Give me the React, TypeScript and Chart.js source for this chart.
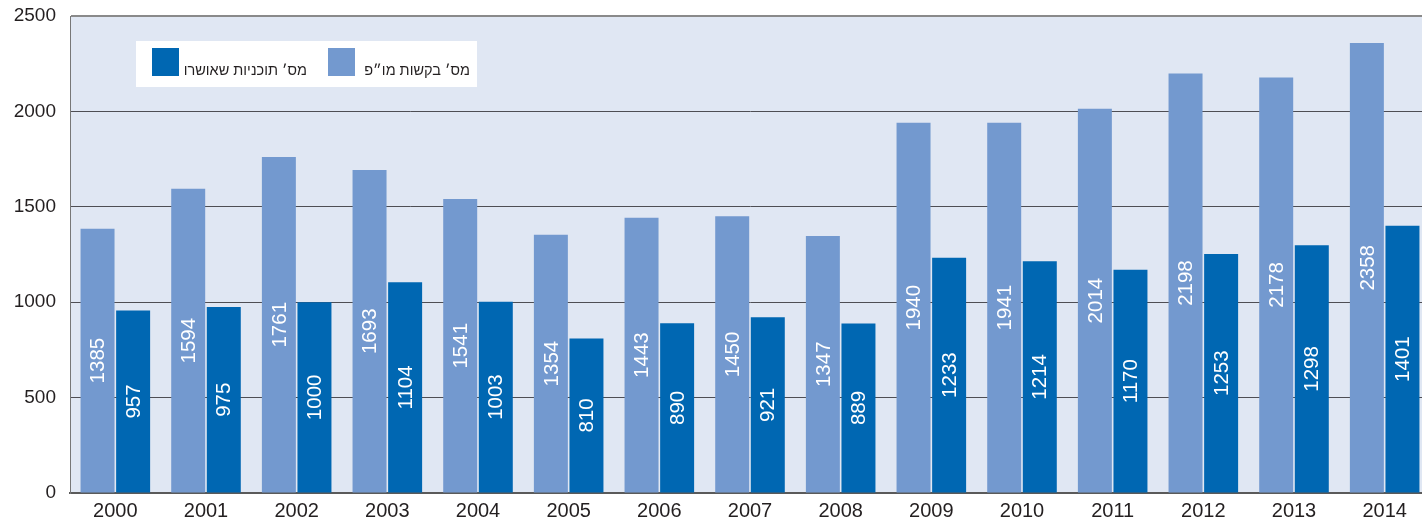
import React, { useEffect, useRef } from "react";
import { Chart, registerables } from "chart.js";

Chart.register(...registerables);

const years = ["2000", "2001", "2002", "2003", "2004", "2005", "2006", "2007", "2008", "2009", "2010", "2011", "2012", "2013", "2014"];
const requests = [1385, 1594, 1761, 1693, 1541, 1354, 1443, 1450, 1347, 1940, 1941, 2014, 2198, 2178, 2358];
const approved = [957, 975, 1000, 1104, 1003, 810, 890, 921, 889, 1233, 1214, 1170, 1253, 1298, 1401];
const seriesLabels = ["מס׳ בקשות מו״פ", "מס׳ תוכניות שאושרו"];
const seriesColors = ["#7399cf", "#0067b2"];
const yMax = 2500;
const yStep = 500;

const FONT = "'Liberation Sans', Arial, 'DejaVu Sans', sans-serif";

const bgPlugin = {
  id: "bg",
  beforeDraw(chart: any) {
    const { ctx, chartArea: a } = chart;
    ctx.save();
    ctx.fillStyle = "#e0e7f3";
    ctx.fillRect(a.left, a.top, a.right - a.left, a.bottom - a.top);
    ctx.restore();
  },
};

const valueLabelPlugin = {
  id: "valueLabels",
  afterDatasetsDraw(chart: any) {
    const { ctx } = chart;
    ctx.save();
    ctx.fillStyle = "#ffffff";
    ctx.font = `20.5px ${FONT}`;
    ctx.textAlign = "center";
    ctx.textBaseline = "middle";
    chart.data.datasets.forEach((ds: any, i: number) => {
      const meta = chart.getDatasetMeta(i);
      meta.data.forEach((bar: any, j: number) => {
        const cy = (bar.y + bar.base) / 2;
        ctx.save();
        ctx.translate(bar.x + 1, cy);
        ctx.rotate(-Math.PI / 2);
        ctx.fillText(String(ds.data[j]), 0, 0);
        ctx.restore();
      });
    });
    ctx.restore();
  },
};

const legendPlugin = {
  id: "boxLegend",
  afterDraw(chart: any) {
    const { ctx } = chart;
    const dsets = chart.data.datasets;
    ctx.save();
    ctx.fillStyle = "#ffffff";
    ctx.fillRect(136, 41, 341, 46);
    ctx.font = `14.5px ${FONT}`;
    ctx.textBaseline = "alphabetic";
    ctx.textAlign = "right";
    (ctx as any).direction = "rtl";
    const items = [
      { textRight: 470, swatchX: 328 },
      { textRight: 307, swatchX: 152 },
    ];
    items.forEach((it, i) => {
      const ds = dsets[i];
      ctx.fillStyle = ds.backgroundColor;
      ctx.fillRect(it.swatchX, 48, 27, 28);
      ctx.fillStyle = "#231f20";
      ctx.fillText(ds.label, it.textRight, 75);
    });
    ctx.restore();
  },
};

export default function App() {
  const ref = useRef<HTMLCanvasElement>(null);

  useEffect(() => {
    if (!ref.current) return;
    const chart = new Chart(ref.current, {
      type: "bar",
      data: {
        labels: years,
        datasets: [
          { label: seriesLabels[0], data: requests, backgroundColor: seriesColors[0], borderWidth: 0 },
          { label: seriesLabels[1], data: approved, backgroundColor: seriesColors[1], borderWidth: 0 },
        ],
      },
      options: {
        responsive: false,
        animation: false,
        maintainAspectRatio: false,
        layout: { padding: { top: 16, left: 0, right: 0, bottom: 0 } },
        datasets: {
          bar: { categoryPercentage: 0.785, barPercentage: 0.955 },
        },
        plugins: {
          legend: { display: false },
          tooltip: { enabled: false },
          title: { display: false },
        },
        scales: {
          x: {
            grid: { display: false, drawTicks: false },
            border: { display: true, color: "#5a5a5a", width: 2 },
            ticks: {
              color: "#231f20",
              font: { size: 20, family: FONT },
              padding: 6,
              maxRotation: 0,
            },
            afterFit(scale: any) {
              scale.height = 25;
            },
          },
          y: {
            min: 0,
            max: yMax,
            grid: {
              color: (c: any) => (c.tick && c.tick.value === yMax ? "#8a8a8a" : "#4e4e54"),
              lineWidth: (c: any) => (c.tick && c.tick.value === yMax ? 2 : 1),
              drawTicks: false,
            },
            border: { display: true, color: "#777777", width: 1 },
            ticks: {
              stepSize: yStep,
              color: "#231f20",
              font: { size: 19, family: FONT },
              padding: 14,
              callback: (v: any) => String(v),
            },
            afterFit(scale: any) {
              scale.width = 70;
              scale.paddingTop = 0;
              scale.paddingBottom = 0;
            },
          },
        },
      },
      plugins: [bgPlugin, valueLabelPlugin, legendPlugin],
    });
    return () => chart.destroy();
  }, []);

  return (
    <div style={{ position: "fixed", left: 0, top: 0, width: 1422, height: 518, overflow: "hidden", background: "#fff" }}>
      <canvas ref={ref} width={1430} height={518} style={{ display: "block", width: 1430, height: 518 }} />
    </div>
  );
}
